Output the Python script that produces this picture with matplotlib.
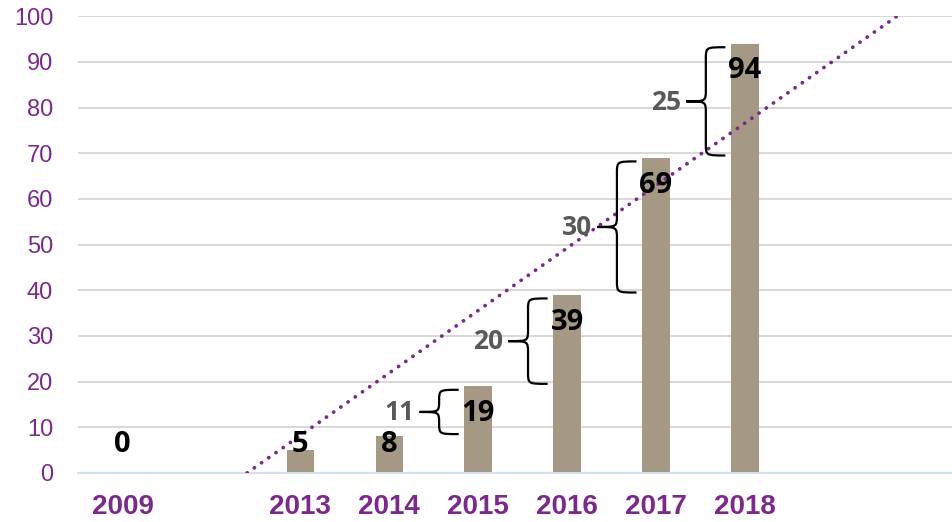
import numpy as np
import matplotlib.pyplot as plt
from matplotlib.path import Path
from matplotlib.patches import PathPatch

# data
years = ['2009', '', '2013', '2014', '2015', '2016', '2017', '2018', '', '']
values = [0, np.nan, 5, 8, 19, 39, 69, 94, np.nan, np.nan]
# yearly increments shown with braces (index of bar, previous value, current value)
brace_idx = [4, 5, 6, 7]
brace_prev = [8, 19, 39, 69]
brace_cur = [19, 39, 69, 94]
brace_text = ['11', '20', '30', '25']
# trend line end points (x in category index, y in value)
trend_x = [1.40, 8.71]
trend_y = [0, 100]

purple = '#7B2A8C'
bar_color = '#A59884'

fig = plt.figure(figsize=(9.53, 5.22), dpi=100)
ax = fig.add_axes([0.082, 0.094, 0.918, 0.875])

x = np.arange(len(years))
vals = np.array(values, dtype=float)
ax.bar(x, np.nan_to_num(vals), width=0.31, color=bar_color, zorder=2)

ax.plot(trend_x, trend_y, color=purple, lw=2.7, linestyle=(0, (0.05, 2.3)),
        dash_capstyle='round', zorder=3)

# value labels
for i, v in enumerate(vals):
    if np.isnan(v):
        continue
    ax.text(i, max(v - 6, 6.3), str(int(v)), ha='center', va='center',
            fontsize=21, fontweight='bold', family='Open Sans', color='black', zorder=4)


def brace(ax, xr, xv, xt, yb, yt):
    ym = (yb + yt) / 2
    r = min(2.6, (yt - yb) / 4)
    verts = [(xr, yt), (xv, yt), (xv, yt), (xv, yt - r),
             (xv, ym + r),
             (xv, ym), (xv, ym), (xt, ym),
             (xv, ym), (xv, ym), (xv, ym - r),
             (xv, yb + r),
             (xv, yb), (xv, yb), (xr, yb)]
    codes = [Path.MOVETO, Path.CURVE4, Path.CURVE4, Path.CURVE4,
             Path.LINETO,
             Path.CURVE4, Path.CURVE4, Path.CURVE4,
             Path.CURVE4, Path.CURVE4, Path.CURVE4,
             Path.LINETO,
             Path.CURVE4, Path.CURVE4, Path.CURVE4]
    ax.add_patch(PathPatch(Path(verts, codes), fill=False, lw=1.6,
                           edgecolor='black', zorder=4))


for i, p, c, t in zip(brace_idx, brace_prev, brace_cur, brace_text):
    brace(ax, i - 0.22, i - 0.44, i - 0.66, p + 0.5, c - 0.8)
    ax.text(i - 0.89, (p + c) / 2 - 0.3, t, ha='center', va='center',
            fontsize=19, fontweight='bold', family='Open Sans', color='#595959', zorder=4)

ax.set_xlim(-0.5, 9.34)
ax.set_ylim(0, 100)
ax.set_yticks(np.arange(0, 101, 10))
ax.set_xticks(x)
ax.set_xticklabels(years)
ax.yaxis.grid(True, color='#D9D9D9', lw=1.5, zorder=0)
ax.set_axisbelow(True)
for s in ['top', 'right', 'left']:
    ax.spines[s].set_visible(False)
ax.spines['bottom'].set_color('#D6DFF2')
ax.spines['bottom'].set_linewidth(1.5)
ax.tick_params(axis='both', length=0)
ax.tick_params(axis='y', pad=18, labelsize=17, labelcolor=purple)
ax.tick_params(axis='x', pad=15, labelsize=20, labelcolor=purple)
for lab in ax.get_yticklabels():
    lab.set_family('Liberation Sans')
for lab in ax.get_xticklabels():
    lab.set_family('Liberation Sans')
    lab.set_fontweight('bold')

fig.savefig('out.png', dpi=100)
